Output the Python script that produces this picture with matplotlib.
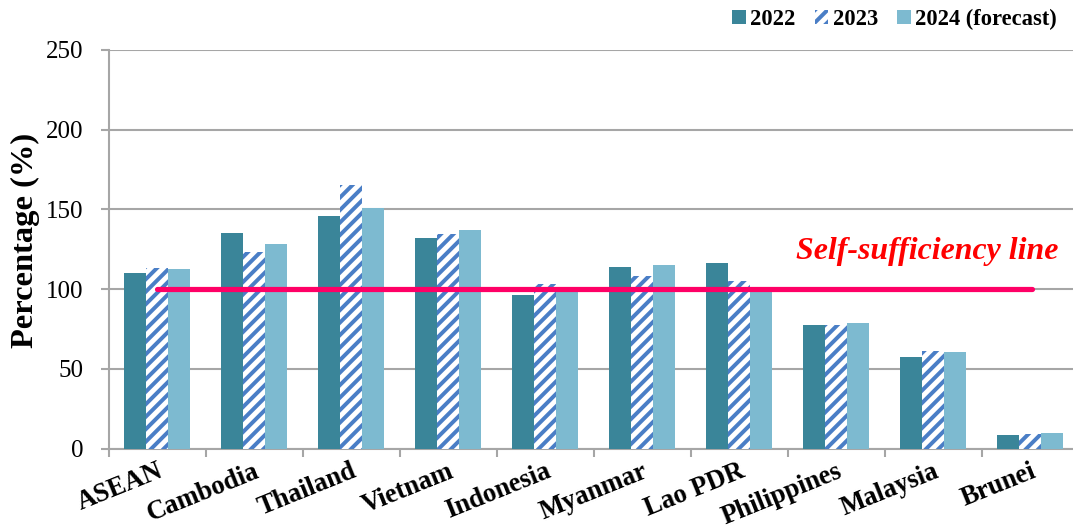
import matplotlib
matplotlib.use("Agg")
import matplotlib.pyplot as plt
from matplotlib.patches import Patch
import numpy as np

# Rice self-sufficiency ratio by country (%)
countries = ["ASEAN", "Cambodia", "Thailand", "Vietnam", "Indonesia",
             "Myanmar", "Lao PDR", "Philippines", "Malaysia", "Brunei"]
ssr_2022 = [110, 135, 146, 132, 96.5, 114, 116.5, 77.5, 57.5, 8.5]
ssr_2023 = [113, 123, 165, 134.5, 103.5, 108, 105, 77.5, 61, 9]
ssr_2024 = [112.5, 128, 151, 137, 100, 115, 99.5, 78.5, 60.5, 9.5]
series_labels = ["2022", "2023", "2024 (forecast)"]
threshold = 100
yticks = [0, 50, 100, 150, 200, 250]

DPI = 150
W, H = 1073, 531
plt.rcParams["font.family"] = ["Liberation Serif", "DejaVu Serif"]
plt.rcParams["hatch.linewidth"] = 1.9

fig = plt.figure(figsize=(W / DPI, H / DPI), dpi=DPI)
left_px, right_px, top_px, bottom_px = 108.5, 1078.5, 50, 448.5
ax = fig.add_axes([left_px / W, 1 - bottom_px / H,
                   (right_px - left_px) / W, (bottom_px - top_px) / H])

x = np.arange(len(countries))
bw = 0.224
grid_c = "#A6A6A6"

ax.bar(x - bw, ssr_2022, bw, color="#3A8599", linewidth=0, zorder=3)
ax.bar(x, ssr_2023, bw, facecolor="white", edgecolor="#4A7EC6", hatch="////",
       linewidth=0, zorder=3)
ax.bar(x + bw, ssr_2024, bw, color="#7DBAD0", linewidth=0, zorder=3)

# self-sufficiency threshold
ax.plot([0, 9.02], [threshold, threshold], color="#FF0066", lw=2.5,
        solid_capstyle="round", zorder=5)
ax.text(927 / W, 1 - 251 / H, "Self-sufficiency line", transform=fig.transFigure,
        color="#FF0000", fontsize=15.3, fontweight="bold", fontstyle="italic",
        ha="center", va="center")

ax.set_xlim(-0.5, len(countries) - 0.5)
ax.set_ylim(0, 250)
ax.set_yticks(yticks)
ax.yaxis.grid(True, color=grid_c, lw=1.0, zorder=0)
ax.set_axisbelow(True)

ax.set_xticks(x)
ax.set_xticklabels(countries, rotation=22, ha="right", rotation_mode="anchor",
                   fontsize=12.8, fontweight="bold")
ax.set_xticks(np.arange(len(countries) + 1) - 0.5, minor=True)
ax.tick_params(axis="x", which="major", length=0, pad=5)
ax.tick_params(axis="x", which="minor", length=4, width=1.0, color=grid_c)
ax.tick_params(axis="y", length=4, width=1.0, color=grid_c, labelsize=12, pad=8)

for s in ["top", "right"]:
    ax.spines[s].set_visible(False)
for s in ["left", "bottom"]:
    ax.spines[s].set_color(grid_c)
    ax.spines[s].set_linewidth(1.0)

fig.text(25 / W, 1 - 240 / H, "Percentage (%)", rotation=90, ha="center",
         va="center", fontsize=15.6, fontweight="bold")

handles = [Patch(facecolor="#3A8599", linewidth=0),
           Patch(facecolor="white", edgecolor="#4A7EC6", hatch="////", linewidth=0),
           Patch(facecolor="#7DBAD0", linewidth=0)]
leg = fig.legend(handles, series_labels, loc="center right",
                 bbox_to_anchor=(1057 / W, 1 - 19 / H), ncol=3, frameon=False,
                 prop={"weight": "bold", "size": 10.8},
                 handlelength=0.6, handleheight=0.6, handletextpad=0.2,
                 columnspacing=0.85, borderaxespad=0, borderpad=0)

fig.savefig("out.png", dpi=DPI)
